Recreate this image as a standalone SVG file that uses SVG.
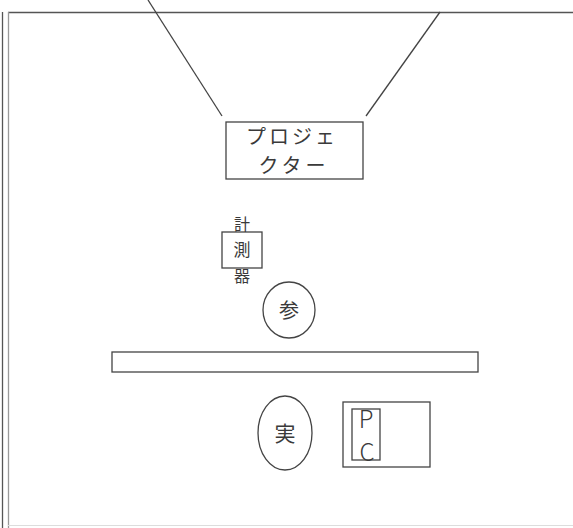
<svg xmlns="http://www.w3.org/2000/svg" width="573" height="528" viewBox="0 0 573 528">
<style>
.s{fill:none;stroke:#444;stroke-width:1.3}
.t{font-family:"Noto Sans CJK JP","Noto Sans",sans-serif;fill:#3a3a3a;text-anchor:middle}
</style>
<rect width="573" height="528" fill="#fff"/>
<g id="frame">
<line x1="8" y1="12.5" x2="573" y2="12.5" stroke="#555" stroke-width="1.6"/>
<line x1="2.5" y1="12" x2="2.5" y2="528" stroke="#555" stroke-width="1.3"/>
<line x1="8.5" y1="12" x2="8.5" y2="528" stroke="#999" stroke-width="1.3"/>
<line x1="8" y1="525.5" x2="573" y2="525.5" stroke="#ddd" stroke-width="1"/>
</g>
<g id="connectors">
<line class="s" x1="148" y1="0" x2="222" y2="116" stroke-width="1"/>
<line class="s" x1="440" y1="12" x2="366" y2="116" stroke-width="1"/>
</g>
<g id="projector">
<rect class="s" x="226" y="122" width="137" height="57"/>
<text class="t" x="292" y="144" font-size="20" letter-spacing="3">プロジェ</text>
<text class="t" x="294" y="173" font-size="20" letter-spacing="4">クター</text>
</g>
<g id="meter">
<rect class="s" x="222" y="232" width="40" height="36"/>
<text class="t" x="242" y="230" font-size="16">計</text>
<text class="t" x="242" y="256" font-size="17">測</text>
<text class="t" x="242" y="282" font-size="16">器</text>
</g>
<g id="ref">
<ellipse class="s" cx="289" cy="310" rx="26" ry="28"/>
<text class="t" x="289" y="318" font-size="20">参</text>
</g>
<g id="bar">
<rect class="s" x="112" y="352" width="366" height="20"/>
</g>
<g id="real">
<ellipse class="s" cx="285" cy="433" rx="27" ry="37"/>
<text class="t" x="285" y="441" font-size="21">実</text>
</g>
<g id="pc">
<rect class="s" x="343" y="402" width="87" height="65"/>
<rect class="s" x="352" y="409" width="28" height="51"/>
<text class="t" x="366" y="428" font-size="24" font-weight="300">P</text>
<text class="t" x="367" y="461" font-size="24" font-weight="300">C</text>
</g>
</svg>
